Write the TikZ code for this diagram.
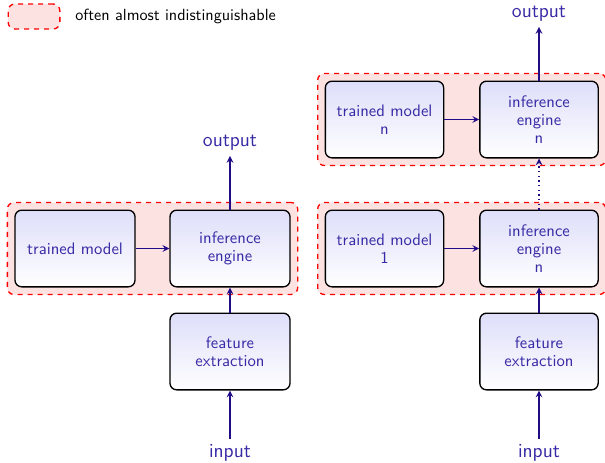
\documentclass[tikz,border=0pt]{standalone}
\usetikzlibrary{fit,backgrounds}

\definecolor{txtblue}{RGB}{55,42,165}
\definecolor{arrblue}{RGB}{32,12,135}
\definecolor{boxtop}{RGB}{222,222,250}
\definecolor{regionred}{RGB}{253,226,226}

\tikzset{
  stage/.style={draw=black, thick, rounded corners=4pt, minimum width=43.5pt, minimum height=46pt,
    top color=boxtop, bottom color=white, text=txtblue, align=center,
    font=\sffamily\fontsize{10}{11}\selectfont, inner sep=1pt},
  region/.style={draw=red, thick, dashed, rounded corners=4pt, fill=regionred, inner sep=4.2pt},
  io/.style={text=txtblue, font=\sffamily\fontsize{12}{14}\selectfont, inner sep=3pt},
  flow/.style={-stealth, thick, draw=arrblue}
}

\begin{document}
\begin{tikzpicture}[x=0.6pt,y=-0.6pt]
  \useasboundingbox (0,0) rectangle (605,462);

  % legend
  \node (key) [region, minimum width=31pt, minimum height=15pt, inner sep=0pt] at (34,16.5) {};
  \node (keytext) [anchor=west, font=\sffamily\fontsize{9.7}{11}\selectfont, inner sep=0pt] at (75,16.5)
    {often almost indistinguishable};

  % single model
  \node (tm) [stage, minimum width=72pt] at (75,248.5) {trained model};
  \node (ie) [stage, minimum width=72pt] at (230,248.5) {inference\\engine};
  \node (fe) [stage, minimum width=72pt] at (230,351.5) {feature\\extraction};
  \node (out) [io] at (230,143) {output};
  \node (in) [io] at (230,453) {input};

  % cascade of models
  \node (tmn) [stage, minimum width=71pt] at (384.5,119.5) {trained model\\n};
  \node (ien) [stage, minimum width=71pt] at (539,119.5) {inference\\engine\\n};
  \node (tmone) [stage, minimum width=71pt] at (384.5,248.5) {trained model\\1};
  \node (ieone) [stage, minimum width=71pt] at (539,248.5) {inference\\engine\\n};
  \node (fer) [stage, minimum width=71pt] at (539,351.5) {feature\\extraction};
  \node (outr) [io] at (539,14) {output};
  \node (inr) [io] at (539,453) {input};

  \begin{scope}[on background layer]
    \node (grp) [region, fit=(tm) (ie)] {};
    \node (grptop) [region, fit=(tmn) (ien)] {};
    \node (grpbot) [region, fit=(tmone) (ieone)] {};
  \end{scope}

  \path
    (in) edge [flow] (fe)
    (fe) edge [flow] (ie)
    (tm) edge [flow] (ie)
    (ie) edge [flow] (out)

    (inr) edge [flow] (fer)
    (fer) edge [flow] (ieone)
    (tmone) edge [flow] (ieone)
    (ieone) edge [flow, dotted] (ien)
    (tmn) edge [flow] (ien)
    (ien) edge [flow] (outr);
\end{tikzpicture}
\end{document}
